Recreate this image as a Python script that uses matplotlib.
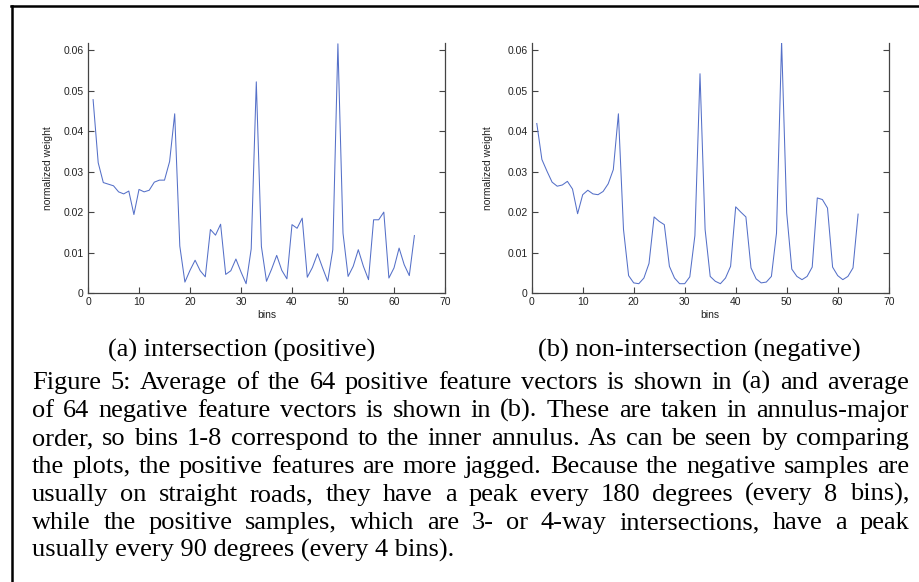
import matplotlib
matplotlib.use('Agg')
import matplotlib.pyplot as plt
from matplotlib.lines import Line2D
import numpy as np

W, H = 919, 582

# bins 1..64
bins = list(range(1, 65))

# average positive feature vector (intersections)
positive = [0.0478, 0.0322, 0.0273, 0.0269, 0.0265, 0.0250, 0.0245, 0.0252,
            0.0194, 0.0256, 0.0250, 0.0254, 0.0274, 0.0279, 0.0279, 0.0325,
            0.0443, 0.0116, 0.0027, 0.0056, 0.0081, 0.0055, 0.0040, 0.0157,
            0.0143, 0.0170, 0.0046, 0.0055, 0.0084, 0.0052, 0.0023, 0.0109,
            0.0522, 0.0115, 0.0029, 0.0059, 0.0093, 0.0056, 0.0035, 0.0169,
            0.0160, 0.0185, 0.0039, 0.0063, 0.0097, 0.0062, 0.0029, 0.0107,
            0.0616, 0.0148, 0.0041, 0.0066, 0.0107, 0.0066, 0.0033, 0.0181,
            0.0181, 0.0200, 0.0037, 0.0062, 0.0111, 0.0070, 0.0043, 0.0142]

# average negative feature vector (non-intersections)
negative = [0.0419, 0.0330, 0.0301, 0.0274, 0.0264, 0.0267, 0.0276, 0.0257,
            0.0196, 0.0243, 0.0254, 0.0245, 0.0243, 0.0251, 0.0270, 0.0305,
            0.0443, 0.0157, 0.0043, 0.0025, 0.0023, 0.0037, 0.0073, 0.0188,
            0.0177, 0.0169, 0.0066, 0.0037, 0.0023, 0.0023, 0.0040, 0.0142,
            0.0542, 0.0157, 0.0041, 0.0029, 0.0023, 0.0037, 0.0066, 0.0213,
            0.0200, 0.0188, 0.0062, 0.0035, 0.0025, 0.0027, 0.0041, 0.0148,
            0.0622, 0.0198, 0.0059, 0.0041, 0.0033, 0.0041, 0.0064, 0.0235,
            0.0231, 0.0210, 0.0064, 0.0043, 0.0033, 0.0041, 0.0062, 0.0195]

xticks = [0, 10, 20, 30, 40, 50, 60, 70]
yticks = [0, 0.01, 0.02, 0.03, 0.04, 0.05, 0.06]
ytick_labels = ['0', '0.01', '0.02', '0.03', '0.04', '0.05', '0.06']

subcaptions = ['(a) intersection (positive)', '(b) non-intersection (negative)']
caption_lines = [
    'Figure 5: Average of the 64 positive feature vectors is shown in (a) and average',
    'of 64 negative feature vectors is shown in (b). These are taken in annulus-major',
    'order, so bins 1-8 correspond to the inner annulus. As can be seen by comparing',
    'the plots, the positive features are more jagged. Because the negative samples are',
    'usually on straight roads, they have a peak every 180 degrees (every 8 bins),',
    'while the positive samples, which are 3- or 4-way intersections, have a peak',
    'usually every 90 degrees (every 4 bins).',
]

plt.rcParams['font.family'] = ['Liberation Sans', 'DejaVu Sans']

fig = plt.figure(figsize=(W / 100, H / 100), dpi=100)

def px(x, y):
    # pixel (from top-left) -> figure fraction
    return x / W, 1 - y / H

axis_col = '#444444'
line_col = '#5570c8'

panels = [(88, positive, 53), (531.7, negative, 493)]
for left, vals, ylab_x in panels:
    ax = fig.add_axes([left / W, 1 - 293 / H, 357 / W, 250 / H])
    ax.plot(bins, vals, color=line_col, lw=0.75)
    ax.set_xlim(0, 70)
    ax.set_ylim(0, 0.0618)
    ax.set_xticks(xticks)
    ax.set_yticks(yticks)
    ax.set_yticklabels(ytick_labels)
    ax.spines['top'].set_visible(False)
    for s in ['left', 'right', 'bottom']:
        ax.spines[s].set_color(axis_col)
        ax.spines[s].set_linewidth(0.9)
    ax.tick_params(direction='in', length=4, width=0.8, color=axis_col,
                   labelsize=7.5, labelcolor='#222222', pad=3)
    ax.tick_params(axis='y', right=True)
    ax.set_xlabel('bins', fontsize=7.5, color='#222222', labelpad=2)
    ax.set_ylabel('normalized weight', fontsize=7.5, color='#222222')
    ax.yaxis.set_label_coords((ylab_x - left) / 357, 0.5)

# frame lines of the page crop
fig.add_artist(Line2D([px(11.5, 0)[0], px(11.5, 0)[0]], [px(0, 6)[1], 0],
                      color='black', lw=1.8))
fig.add_artist(Line2D([px(10.6, 0)[0], 1], [px(0, 6.3)[1], px(0, 6.3)[1]],
                      color='black', lw=1.8))

serif = ['Liberation Serif', 'DejaVu Serif']
fs = 19

fig.text(*px(242, 357), subcaptions[0], family=serif, fontsize=fs,
         ha='center', va='baseline')
fig.text(*px(699, 357), subcaptions[1], family=serif, fontsize=fs,
         ha='center', va='baseline')

# justified caption text
fig.canvas.draw()
renderer = fig.canvas.get_renderer()
x_left, x_right = 32, 909
y0, dy = 389, 28
for i, line in enumerate(caption_lines):
    y = y0 + i * dy
    if i == len(caption_lines) - 1:
        fig.text(*px(x_left, y), line, family=serif, fontsize=fs,
                 ha='left', va='baseline')
        continue
    words = line.split(' ')
    texts = [fig.text(0, 0, w, family=serif, fontsize=fs, ha='left',
                      va='baseline') for w in words]
    widths = [t.get_window_extent(renderer).width for t in texts]
    gap = (x_right - x_left - sum(widths)) / (len(words) - 1)
    x = x_left
    for t, w in zip(texts, widths):
        t.set_position(px(x, y))
        x += w + gap

fig.savefig('out.png', dpi=100)
